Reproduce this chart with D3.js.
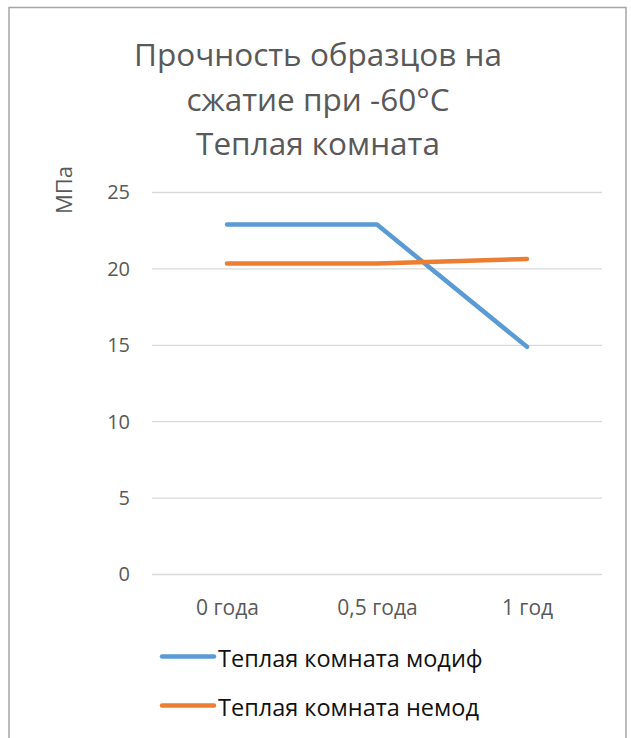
<!DOCTYPE html>
<html><head><meta charset="utf-8">
<script src="https://cdn.jsdelivr.net/npm/d3@7"></script>
<style>body{margin:0;background:#fff;}svg{display:block;font-family:"Open Sans",sans-serif;}</style>
</head><body>
<script>
const categories = ["0 года", "0,5 года", "1 год"];
const seriesNames = ["Теплая комната модиф", "Теплая комната немод"];
const modif = [22.9, 22.9, 14.9];
const nemod = [20.35, 20.35, 20.65];
const yTicks = [0, 5, 10, 15, 20, 25];
const titleLines = ["Прочность образцов на", "сжатие при -60°C", "Теплая комната"];
const colors = ["#5B9BD5", "#ED7D31"];

const W = 631, H = 738;
const svg = d3.select("body").append("svg").attr("width", W).attr("height", H);
svg.append("rect").attr("x", 9).attr("y", 7.5).attr("width", 617).attr("height", 740)
  .attr("fill", "#fff").attr("stroke", "#a6a6a6").attr("stroke-width", 1.5);

const x = d3.scalePoint().domain(categories).range([152, 602]).padding(0.5);
const y = d3.scaleLinear().domain([0, 25]).range([574.5, 192.5]);

// title
svg.append("g").selectAll("text").data(titleLines).join("text")
  .attr("x", 318).attr("y", (d, i) => 66 + i * 44.5)
  .attr("text-anchor", "middle").attr("font-size", 31.5).attr("fill", "#595959").text(d => d);

// grid
svg.append("g").selectAll("line").data(yTicks).join("line")
  .attr("x1", 152).attr("x2", 602).attr("y1", d => y(d)).attr("y2", d => y(d))
  .attr("stroke", "#d9d9d9").attr("stroke-width", 1.3);

// y axis
const yAxis = svg.append("g").attr("transform", "translate(130,0)")
  .call(d3.axisLeft(y).tickValues(yTicks).tickSize(0).tickPadding(0));
yAxis.select(".domain").remove();
yAxis.selectAll("text").attr("font-size", 20).attr("fill", "#595959").attr("font-family", "Open Sans");

// x axis
const xAxis = svg.append("g").attr("transform", "translate(0,591)")
  .call(d3.axisBottom(x).tickSize(0).tickPadding(0));
xAxis.select(".domain").remove();
xAxis.selectAll("text").attr("font-size", 21).attr("fill", "#595959").attr("font-family", "Open Sans")
  .attr("dy", 0).attr("y", 24);

// y label
svg.append("text").attr("transform", "translate(72,190) rotate(-90)")
  .attr("text-anchor", "middle").attr("font-size", 22).attr("fill", "#595959").text("МПа");

// lines
const line = d3.line().x((d, i) => x(categories[i])).y(d => y(d));
[modif, nemod].forEach((s, k) => {
  svg.append("path").datum(s).attr("d", line).attr("fill", "none")
    .attr("stroke", colors[k]).attr("stroke-width", 4.5).attr("stroke-linecap", "round").attr("stroke-linejoin", "round");
});

// legend
const lg = svg.append("g").selectAll("g").data(seriesNames).join("g")
  .attr("transform", (d, i) => `translate(0,${656.5 + i * 49})`);
lg.append("line").attr("x1", 162).attr("x2", 214).attr("y1", 0).attr("y2", 0)
  .attr("stroke", (d, i) => colors[i]).attr("stroke-width", 4.5).attr("stroke-linecap", "round");
lg.append("text").attr("x", 218).attr("y", 10).attr("font-size", 23.5).attr("fill", "#111").text(d => d);
</script>
</body></html>
